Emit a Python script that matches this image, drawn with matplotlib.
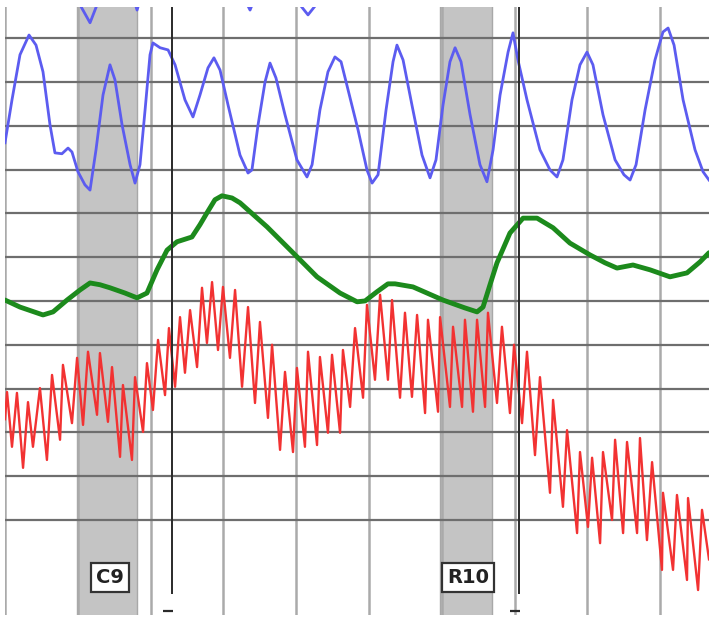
import numpy as np
import matplotlib
matplotlib.use("Agg")
import matplotlib.pyplot as plt

# time in seconds, amplitude in chart divisions

# pneumo (blue)
pneumo_t = [0, 0.48, 1.03, 1.65, 2.13, 2.61, 3.09, 3.43, 3.91, 4.33,
            4.60, 5.01, 5.49, 5.84, 6.25, 6.73, 7.21, 7.55, 8.04, 8.59,
            8.93, 9.27, 9.62, 9.96, 10.16, 10.65, 11.20, 11.68, 12.36, 12.91,
            13.39, 13.94, 14.35, 14.77, 15.32, 16.14, 16.69, 16.96, 17.38, 17.86,
            18.20, 18.61, 19.23, 20.05, 20.74, 21.09, 21.63, 22.18, 22.66, 23.08,
            23.56, 24.25, 24.86, 25.21, 25.62, 26.17, 26.65, 26.92, 27.34, 27.95,
            28.64, 29.19, 29.60, 30.08, 30.56, 30.91, 31.32, 31.94, 32.62, 33.10,
            33.52, 34.00, 34.55, 34.89, 35.23, 35.85, 36.74, 37.43, 37.91, 38.32,
            38.94, 39.49, 39.97, 40.38, 41.07, 41.90, 42.51, 42.93, 43.34, 43.96,
            44.64, 45.19, 45.54, 45.95, 46.57, 47.39, 47.94, 48.35]
pneumo_y = [10.61, 11.59, 12.62, 13.07, 12.84, 12.23, 11.02, 10.38, 10.36, 10.49,
            10.40, 9.95, 9.65, 9.53, 10.45, 11.70, 12.39, 12.05, 11.02, 10.11,
            9.69, 10.11, 11.36, 12.62, 12.89, 12.78, 12.73, 12.39, 11.59, 11.20,
            11.70, 12.32, 12.55, 12.27, 11.47, 10.33, 9.92, 9.99, 11.02, 12.00,
            12.43, 12.09, 11.25, 10.22, 9.83, 10.11, 11.36, 12.23, 12.57, 12.46,
            11.82, 10.90, 9.99, 9.69, 9.88, 11.36, 12.46, 12.84, 12.50, 11.47,
            10.33, 9.81, 10.22, 11.47, 12.46, 12.78, 12.46, 11.25, 10.11, 9.72,
            10.45, 11.70, 12.68, 13.12, 12.50, 11.59, 10.45, 9.99, 9.83, 10.22,
            11.59, 12.39, 12.68, 12.39, 11.25, 10.22, 9.88, 9.76, 10.11, 11.36,
            12.50, 13.14, 13.23, 12.84, 11.59, 10.45, 9.95, 9.76]

# upper pneumo, mostly above the visible area
pneumo2_t = [4.46, 5.15, 5.84, 6.32, 6.87, 8.45, 9.07, 9.68,
             15.80, 16.83, 17.65, 19.57, 20.26, 20.81, 21.36, 22.05]
pneumo2_y = [14.56, 13.76, 13.35, 13.76, 14.56, 14.33, 13.64, 14.33,
             14.33, 13.64, 14.33, 14.33, 13.76, 13.53, 13.76, 14.44]

# EDA (green)
eda_t = [0, 1.03, 2.61, 3.30, 4.26, 5.15, 5.84, 6.52, 7.21, 8.24,
         9.07, 9.75, 10.44, 11.13, 11.81, 12.84, 13.39, 13.87, 14.42, 14.90,
         15.59, 16.14, 18.00, 19.78, 21.43, 23.01, 24.18, 24.73, 25.55, 26.30,
         26.79, 28.02, 30.08, 31.59, 32.42, 32.83, 33.31, 33.79, 34.68, 35.58,
         36.54, 37.64, 38.80, 40.18, 41.21, 42.03, 43.13, 44.30, 45.67, 46.84,
         47.73, 48.35]
eda_y = [7.02, 6.86, 6.68, 6.75, 7.02, 7.25, 7.41, 7.37, 7.30, 7.18,
         7.07, 7.18, 7.71, 8.16, 8.35, 8.46, 8.74, 9.01, 9.31, 9.40,
         9.35, 9.24, 8.69, 8.10, 7.55, 7.18, 6.98, 7.00, 7.21, 7.39,
         7.39, 7.32, 7.02, 6.84, 6.75, 6.86, 7.37, 7.87, 8.55, 8.89,
         8.89, 8.67, 8.32, 8.05, 7.87, 7.75, 7.82, 7.71, 7.55, 7.64,
         7.89, 8.10]

# cardio (red): systolic peaks and diastolic troughs
peak_t = [0.14, 0.82, 1.58, 2.40, 3.23, 3.98, 4.95, 5.70, 6.52, 7.35,
          8.10, 8.93, 9.75, 10.51, 11.26, 12.02, 12.71, 13.53, 14.22, 14.97,
          15.80, 16.69, 17.51, 18.34, 19.23, 20.05, 20.81, 21.63, 22.46, 23.21,
          24.04, 24.86, 25.76, 26.58, 27.47, 28.30, 29.05, 29.88, 30.77, 31.59,
          32.42, 33.17, 34.13, 34.96, 35.85, 36.74, 37.64, 38.60, 39.49, 40.32,
          41.07, 41.90, 42.72, 43.61, 44.44, 45.19, 46.15, 46.91, 47.87]
peak_y = [4.92, 4.90, 4.69, 5.01, 5.31, 5.54, 5.70, 5.84, 5.81, 5.49,
          5.08, 5.26, 5.58, 6.11, 6.38, 6.63, 6.79, 7.30, 7.43, 7.32,
          7.25, 6.86, 6.52, 6.00, 5.38, 5.47, 5.84, 5.72, 5.77, 5.88,
          6.38, 6.91, 7.14, 7.02, 6.73, 6.68, 6.57, 6.63, 6.41, 6.57,
          6.57, 6.73, 6.41, 6.00, 5.84, 5.26, 4.74, 4.05, 3.55, 3.42,
          3.55, 3.83, 3.78, 3.87, 3.32, 2.62, 2.57, 2.50, 2.23]
trough_t = [0.48, 1.24, 1.92, 2.88, 3.78, 4.60, 5.36, 6.32, 7.07, 7.90,
            8.72, 9.48, 10.16, 10.99, 11.68, 12.36, 13.19, 13.87, 14.63, 15.45,
            16.28, 17.17, 18.06, 18.89, 19.78, 20.60, 21.43, 22.18, 23.01, 23.70,
            24.59, 25.41, 26.30, 27.13, 27.95, 28.85, 29.74, 30.56, 31.39, 32.14,
            32.97, 33.79, 34.68, 35.51, 36.40, 37.43, 38.32, 39.29, 40.04, 40.87,
            41.69, 42.45, 43.41, 44.09, 45.12, 45.88, 46.84, 47.60]
trough_y = [3.67, 3.19, 3.67, 3.37, 3.83, 4.21, 4.17, 4.40, 4.24, 3.44,
            3.37, 4.01, 4.51, 4.85, 5.04, 5.36, 5.49, 6.04, 5.88, 5.70,
            5.04, 4.67, 4.33, 3.60, 3.55, 3.67, 3.71, 3.99, 3.99, 4.58,
            4.79, 5.20, 5.20, 4.79, 4.81, 4.44, 4.47, 4.58, 4.58, 4.47,
            4.58, 4.67, 4.44, 4.21, 3.48, 2.62, 2.30, 1.70, 1.84, 1.47,
            2.00, 1.70, 1.70, 1.54, 0.86, 0.86, 0.63, 0.40]
cardio_start = (0.0, 4.30)
cardio_end = (48.35, 1.10)

# question marks
questions = ["C9", "R10"]
q_span = [(4.95, 9.07), (29.88, 33.45)]
q_mark = [11.47, 35.30]
q_label_t = [7.21, 31.80]

# interleave cardio peaks/troughs
cardio_t = [cardio_start[0]]
cardio_y = [cardio_start[1]]
for i in range(len(peak_t)):
    cardio_t.append(peak_t[i]); cardio_y.append(peak_y[i])
    if i < len(trough_t):
        cardio_t.append(trough_t[i]); cardio_y.append(trough_y[i])
cardio_t.append(cardio_end[0]); cardio_y.append(cardio_end[1])

fig = plt.figure(figsize=(7.09, 6.18), dpi=100)
ax = fig.add_axes([5/709, 3/618, 704/709, 608/618])
x0, x1 = 0, 48.35
y0, y1 = -0.17, 13.71
ax.set_xlim(x0, x1)
ax.set_ylim(y0, y1)
ax.axis('off')

# shaded question periods
for (a, b) in q_span:
    ax.axvspan(a, b, color='#c4c4c4', zorder=0, lw=0)
    ax.axvline(a, color='#a8a8a8', lw=1, zorder=0.5)
    ax.axvline(b, color='#a8a8a8', lw=1, zorder=0.5)

# chart grid
for v in range(0, 50, 5):
    ax.axvline(v, color='#aaaaaa', lw=1.8, zorder=1)
for h in range(2, 14):
    ax.axhline(h, color='#6e6e6e', lw=1.6, zorder=1)

# question onset markers
for m in q_mark:
    ax.vlines(m, 0.31, y1, color='#2a2a2a', lw=1.4, zorder=3)
    ax.plot([m - 0.25], [-0.08], marker='_', ms=7, mew=1.6, color='#2a2a2a', zorder=3)

ax.plot(pneumo2_t, pneumo2_y, color='#5c5cf0', lw=2, zorder=2, solid_joinstyle='round')
ax.plot(pneumo_t, pneumo_y, color='#5c5cf0', lw=2, zorder=2, solid_joinstyle='round')
ax.plot(eda_t, eda_y, color='#1c8a1c', lw=3.5, zorder=2, solid_capstyle='round',
        solid_joinstyle='round')
ax.plot(cardio_t, cardio_y, color='#f23232', lw=1.7, zorder=2)

for q, lt in zip(questions, q_label_t):
    ax.text(lt, 0.68, q, ha='center', va='center', fontsize=14, fontweight='bold',
            color='#222222', zorder=4,
            bbox=dict(boxstyle='square,pad=0.25', fc='white', ec='#333333', lw=1.6))

fig.savefig('out.png', dpi=100, facecolor='white')
